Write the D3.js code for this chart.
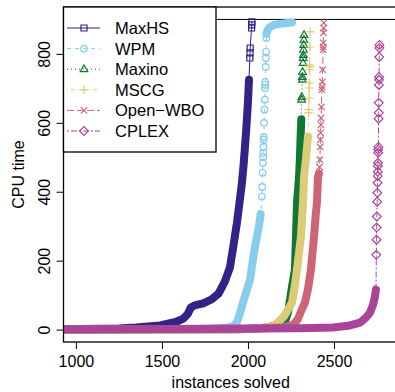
<!DOCTYPE html>
<html>
<head>
<meta charset="utf-8">
<script src="https://cdn.jsdelivr.net/npm/d3@7"></script>
<style>
  body { margin: 0; background: #fff; }
  text { font-family: "Liberation Sans", Arial, sans-serif; }
</style>
</head>
<body>
<svg id="chart" width="395" height="392"></svg>
<script>
// solvers, in legend order
const solvers = ["MaxHS", "WPM", "Maxino", "MSCG", "Open\u2212WBO", "CPLEX"];
const xTicks = [1000, 1500, 2000, 2500];
const yTicks = [0, 200, 400, 600, 800];
const timeout = 900;

// [instances solved, CPU time]
// "band" = runs where the markers pile into a solid stroke, "marks" = single visible markers
const maxhsBand = [[[900,1],[1250,3],[1350,6],[1490,12],[1580,22],[1625,32],[1650,45],[1668,64],[1690,70],[1740,76],[1790,88],[1830,105],[1866,140],[1895,180],[1913,235],[1936,310],[1953,377],[1965,426],[1975,480],[1990,580],[2000,660],[2006,725]]];
const maxhsMarks = [[2011,788],[2012,803],[2013,817],[2021,875],[2022,884],[2023,893]];

const wpmBand = [
  [[900,0.5],[1750,2],[1880,6],[1920,12],[1936,22],[1955,50],[1971,78],[1992,112],[2012,145],[2035,223],[2050,265],[2064,300],[2074,335]],
  [[2107,858],[2115,870],[2128,878],[2150,884],[2186,887],[2220,889],[2256,891]]
];
const wpmMarks = [[2081,386],[2083,414],[2085,455],[2087,484],[2088,501],[2089,513],[2090,530],[2091,551],[2092,559],[2094,600],[2096,638],[2098,667],[2099,701],[2100,710],[2101,719],[2103,762],[2104,788],[2105,806],[2107,846]];

const maxinoBand = [[[900,0.5],[1950,1],[2087,5],[2168,12],[2220,30],[2233,50],[2256,125],[2273,174],[2279,270],[2285,368],[2297,443],[2302,500],[2306,560],[2310,610]]];
const maxinoMarks = [[2312,667],[2313,675],[2316,725],[2316,733],[2317,748],[2320,774],[2321,788],[2322,797],[2323,812],[2324,826],[2325,841],[2326,855]];

const mscgBand = [[[900,0.5],[1900,1],[2050,3],[2150,10],[2209,38],[2256,78],[2272,125],[2285,174],[2308,270],[2320,368],[2326,443],[2338,500],[2349,560]]];
const mscgMarks = [[2352,629],[2353,638],[2355,672],[2356,701],[2357,716],[2358,754],[2358,762],[2359,768],[2360,820],[2362,864]];

const owboBand = [[[900,0.5],[2000,2],[2200,6],[2262,14],[2290,30],[2310,55],[2331,78],[2350,120],[2366,174],[2384,270],[2395,340],[2401,368],[2407,443],[2412,452]]];
const owboMarks = [[2414,455],[2416,472],[2418,493],[2420,530],[2421,551],[2422,571],[2424,594],[2425,614],[2427,646],[2430,696],[2431,704],[2432,719],[2434,754],[2437,812],[2437,820],[2438,832],[2439,861],[2440,875],[2441,890]];

const cplexBand = [[[900,1],[1500,2],[2000,3],[2300,4],[2494,6],[2593,12],[2651,20],[2686,35],[2709,49],[2727,72],[2738,96],[2744,116]]];
const cplexMarks = [[2746,217],[2747,261],[2748,296],[2749,328],[2751,371],[2752,397],[2753,426],[2754,446],[2755,458],[2755,475],[2756,484],[2757,513],[2757,522],[2758,530],[2759,612],[2760,629],[2760,658],[2761,710],[2762,725],[2762,733],[2763,791],[2764,817],[2764,826]];

const colors = ["#332288", "#88CCEE", "#117733", "#DDCC77", "#CC6677", "#AA4499"];
const dashes = [null, "4,4", "1,3", "1,3,4,3", "7,3", "2,2,6,2"];
const shapes = ["square", "circle", "triangle", "plus", "cross", "diamond"];

const series = solvers.map((name, i) => ({
  name: name,
  band: [maxhsBand, wpmBand, maxinoBand, mscgBand, owboBand, cplexBand][i],
  marks: [maxhsMarks, wpmMarks, maxinoMarks, mscgMarks, owboMarks, cplexMarks][i],
  color: colors[i], dash: dashes[i], shape: shapes[i]
}));

const svg = d3.select("#chart");
const pLeft = 63.5, pRight = 398, pTop = 7, pBottom = 342;

const x = d3.scaleLinear().domain([928, 2872]).range([pLeft, pRight]);
const y = d3.scaleLinear().domain([-36, 936]).range([pBottom, pTop]);

svg.append("clipPath").attr("id", "plotclip")
  .append("rect").attr("x", pLeft).attr("y", pTop)
  .attr("width", pRight - pLeft).attr("height", pBottom - pTop);

// marker shapes like R's pch 0..5
function symbolPath(shape) {
  switch (shape) {
    case "square": return "M-3,-3H3V3H-3Z";
    case "circle": return "M3.3,0A3.3,3.3 0 1,1 -3.3,0A3.3,3.3 0 1,1 3.3,0Z";
    case "triangle": return "M0,-4.2L3.8,2.5H-3.8Z";
    case "plus": return "M-4.3,0H4.3M0,-4.3V4.3";
    case "cross": return "M-3.2,-3.2L3.2,3.2M-3.2,3.2L3.2,-3.2";
    case "diamond": return "M0,-4.4L4.4,0L0,4.4L-4.4,0Z";
  }
}

const line = d3.line().x(d => x(d[0])).y(d => y(d[1]));
const plot = svg.append("g").attr("clip-path", "url(#plotclip)");

// timeout line
plot.append("line")
  .attr("x1", pLeft).attr("x2", pRight)
  .attr("y1", y(timeout)).attr("y2", y(timeout))
  .attr("stroke", "#000").attr("stroke-width", 1);

series.forEach(s => {
  const g = plot.append("g");
  const all = s.band.flat().concat(s.marks).sort((a, b) => a[0] - b[0] || a[1] - b[1]);
  g.append("path")
    .attr("d", line(all))
    .attr("fill", "none")
    .attr("stroke", s.color)
    .attr("stroke-width", 1)
    .attr("stroke-dasharray", s.dash);
  s.band.forEach(run => {
    g.append("path")
      .attr("d", line(run))
      .attr("fill", "none")
      .attr("stroke", s.color)
      .attr("stroke-width", 8)
      .attr("stroke-linejoin", "round")
      .attr("stroke-linecap", "round");
  });
  g.selectAll("path.pt")
    .data(s.marks)
    .enter().append("path")
    .attr("class", "pt")
    .attr("transform", d => "translate(" + x(d[0]) + "," + y(d[1]) + ")")
    .attr("d", symbolPath(s.shape))
    .attr("fill", "none")
    .attr("stroke", s.color)
    .attr("stroke-width", 1.2);
});

// axes
const xAxis = svg.append("g")
  .attr("transform", "translate(0," + pBottom + ")")
  .call(d3.axisBottom(x).tickValues(xTicks).tickSize(7).tickFormat(d3.format("d")));
xAxis.select(".domain").remove();
xAxis.selectAll("line").attr("stroke", "#000");
xAxis.selectAll("text").attr("y", 25).attr("dy", 0)
  .style("font-size", "16px").attr("fill", "#000");

const yAxis = svg.append("g")
  .attr("transform", "translate(" + pLeft + ",0)")
  .call(d3.axisLeft(y).tickValues(yTicks).tickSize(7).tickFormat(d3.format("d")));
yAxis.select(".domain").remove();
yAxis.selectAll("line").attr("stroke", "#000");
yAxis.selectAll("text")
  .attr("x", 0).attr("dy", 0)
  .attr("transform", "translate(-13.5,0) rotate(-90)")
  .attr("text-anchor", "middle")
  .style("font-size", "16px").attr("fill", "#000");

// plot box
svg.append("rect")
  .attr("x", pLeft).attr("y", pTop)
  .attr("width", pRight - pLeft + 5).attr("height", pBottom - pTop)
  .attr("fill", "none").attr("stroke", "#000").attr("stroke-width", 1.3);

// axis titles
svg.append("text")
  .attr("x", (pLeft + pRight) / 2).attr("y", 388)
  .attr("text-anchor", "middle").style("font-size", "16px")
  .text("instances solved");
svg.append("text")
  .attr("transform", "translate(24," + (pTop + pBottom) / 2 + ") rotate(-90)")
  .attr("text-anchor", "middle").style("font-size", "16px")
  .text("CPU time");

// legend
const legend = svg.append("g");
legend.append("rect")
  .attr("x", pLeft).attr("y", pTop)
  .attr("width", 216 - pLeft).attr("height", 152 - pTop)
  .attr("fill", "#fff").attr("stroke", "#000").attr("stroke-width", 1.3);
series.forEach((s, i) => {
  const ly = 28 + i * 20.6;
  const row = legend.append("g");
  row.append("line")
    .attr("x1", 67).attr("x2", 100).attr("y1", ly).attr("y2", ly)
    .attr("stroke", s.color).attr("stroke-width", 1)
    .attr("stroke-dasharray", s.dash);
  row.append("path")
    .attr("transform", "translate(84," + ly + ")")
    .attr("d", symbolPath(s.shape))
    .attr("fill", "none").attr("stroke", s.color).attr("stroke-width", 1.2);
  row.append("text")
    .attr("x", 115).attr("y", ly).attr("dy", "0.36em")
    .style("font-size", "16.5px")
    .text(s.name);
});
</script>
</body>
</html>
